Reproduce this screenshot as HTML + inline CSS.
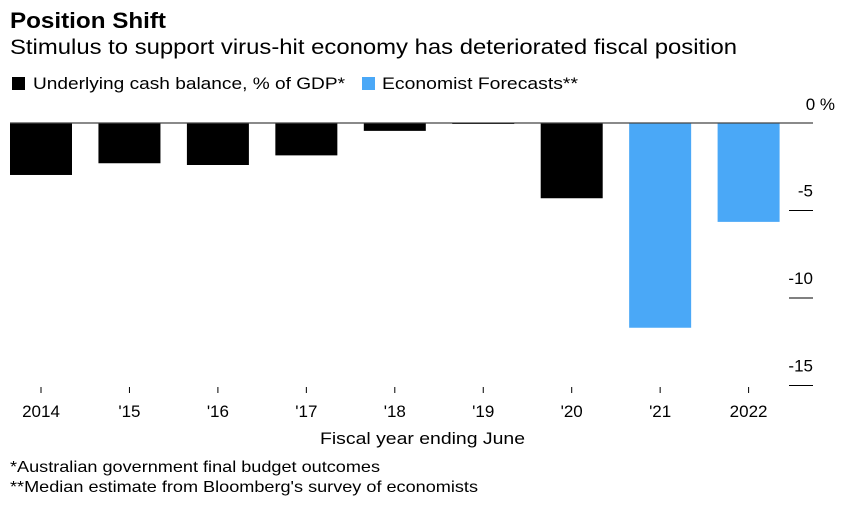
<!DOCTYPE html>
<html><head><meta charset="utf-8"><style>
body{margin:0;background:#fff;font-family:"Liberation Sans",sans-serif;}
svg text{font-family:"Liberation Sans",sans-serif;}
</style></head><body>
<svg width="846" height="514" xmlns="http://www.w3.org/2000/svg" id="chart">
<text x="10" y="28" font-size="22" font-weight="bold" fill="#000" textLength="156" lengthAdjust="spacingAndGlyphs">Position Shift</text>
<text x="10" y="54" font-size="21" fill="#000" textLength="727" lengthAdjust="spacingAndGlyphs">Stimulus to support virus-hit economy has deteriorated fiscal position</text>
<g>
<rect x="12" y="77" width="13" height="13" fill="#000"/>
<text x="33" y="89" font-size="17" fill="#000" textLength="312" lengthAdjust="spacingAndGlyphs">Underlying cash balance, % of GDP*</text>
<rect x="362" y="77" width="13" height="13" fill="#4aa8f7"/>
<text x="382" y="89" font-size="17" fill="#000" textLength="196" lengthAdjust="spacingAndGlyphs">Economist Forecasts**</text>
</g>
<g id="plot"></g>
<text x="320" y="444" font-size="17" fill="#000" textLength="205" lengthAdjust="spacingAndGlyphs">Fiscal year ending June</text>
<text x="10" y="472" font-size="16" fill="#000" textLength="370" lengthAdjust="spacingAndGlyphs">*Australian government final budget outcomes</text>
<text x="10" y="492" font-size="16" fill="#000" textLength="468" lengthAdjust="spacingAndGlyphs">**Median estimate from Bloomberg's survey of economists</text>
</svg>
<script>
const categories=["2014","'15","'16","'17","'18","'19","'20","'21","2022"];
const values=[-2.97,-2.3,-2.4,-1.85,-0.45,-0.05,-4.3,-11.7,-5.65];
const isForecast=[false,false,false,false,false,false,false,true,true];
const yTicks=[0,-5,-10,-15];
const yTickLabels=["0 %","-5","-10","-15"];
const NS="http://www.w3.org/2000/svg";
const g=document.getElementById('plot');
function y(v){return 123-v*17.5;}
function xc(i){return 41+i*88.45;}
const bw=62;
function mk(t,a){const e=document.createElementNS(NS,t);for(const k in a)e.setAttribute(k,a[k]);g.appendChild(e);return e;}
categories.forEach((c,i)=>{
  const v=values[i];
  const r=mk('rect',{x:xc(i)-bw/2,y:y(0),width:bw,height:Math.max(1,y(v)-y(0)),fill:isForecast[i]?'#4aa8f7':'#000'});
  
  
  const tk=mk('line',{x1:xc(i),x2:xc(i),y1:387,y2:393,stroke:'#000','stroke-width':1});
  
  
  const t=mk('text',{x:xc(i),y:417,'font-size':17,'text-anchor':'middle',fill:'#000'});
  t.textContent=c;
  
  
});
const zl=mk('line',{x1:10,x2:813,y1:y(0),y2:y(0),stroke:'#444','stroke-width':1.3});


yTicks.forEach((v,i)=>{
  if(v!==0){const l=mk('line',{x1:789,x2:813,y1:y(v),y2:y(v),stroke:'#000','stroke-width':1});
  
  }
  const t=mk('text',{x:813,y:y(v)-14,'font-size':17,'text-anchor':'end',fill:'#000'});
  if(v===0){t.setAttribute('x',835);t.setAttribute('y',110);}
  t.textContent=yTickLabels[i];
  
  
});
</script>
</body></html>
